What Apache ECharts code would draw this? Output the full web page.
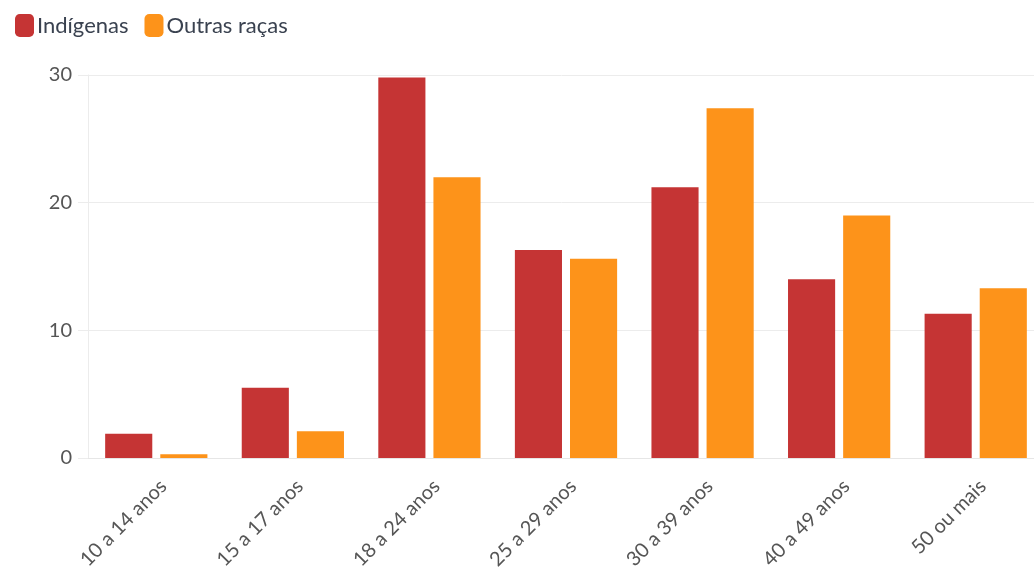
<!DOCTYPE html>
<html><head><meta charset="utf-8">
<script src="https://cdn.jsdelivr.net/npm/echarts@6/dist/echarts.min.js"></script>
<style>html,body{margin:0;padding:0;background:#fff}#c{width:1034px;height:576px}</style>
</head><body><div id="c"></div>
<script>
const categories = ['10 a 14 anos','15 a 17 anos','18 a 24 anos','25 a 29 anos','30 a 39 anos','40 a 49 anos','50 ou mais'];
const indigenas = [1.9, 5.5, 29.8, 16.3, 21.2, 14.0, 11.3];
const outras = [0.3, 2.1, 22.0, 15.6, 27.4, 19.0, 13.3];
const seriesNames = ['Indígenas','Outras raças'];
const yTicks = {min:0, max:30, interval:10};

const font = 'Lato, "Open Sans", sans-serif';
const chart = echarts.init(document.getElementById('c'), null, {renderer:'canvas'});
chart.setOption({
  animation:false,
  textStyle:{fontFamily:font},
  legend:{left:10, top:9, icon:'roundRect', itemWidth:19, itemHeight:23, itemGap:16,
    textStyle:{fontSize:22, color:'#3a4250', fontFamily:font, padding:[0,0,0,-2]},
    data:seriesNames},
  grid:{left:88, right:-10, top:75, bottom:118, containLabel:false, outerBoundsMode:'none'},
  xAxis:{type:'category', data:categories,
    axisLine:{lineStyle:{color:'#e6e6e6'}},
    axisTick:{alignWithLabel:true, length:10, lineStyle:{color:'#e6e6e6'}},
    axisLabel:{rotate:45, fontSize:20, color:'#555', fontFamily:font, margin:18, interval:0, verticalAlign:'top'}},
  yAxis:{type:'value', min:yTicks.min, max:yTicks.max, interval:yTicks.interval,
    axisLine:{show:true, lineStyle:{color:'#ececec'}},
    axisTick:{show:true, length:10, lineStyle:{color:'#ececec'}},
    splitLine:{lineStyle:{color:'#ececec'}},
    axisLabel:{fontSize:20, color:'#555', fontFamily:font, margin:16}},
  series:[
    {name:seriesNames[0], type:'bar', data:indigenas, barWidth:'34.5%', barGap:'17%',
      itemStyle:{color:'#c53434'}},
    {name:seriesNames[1], type:'bar', data:outras, barWidth:'34.5%', barGap:'17%',
      itemStyle:{color:'#fd931a'}}
  ]
});
</script></body></html>
